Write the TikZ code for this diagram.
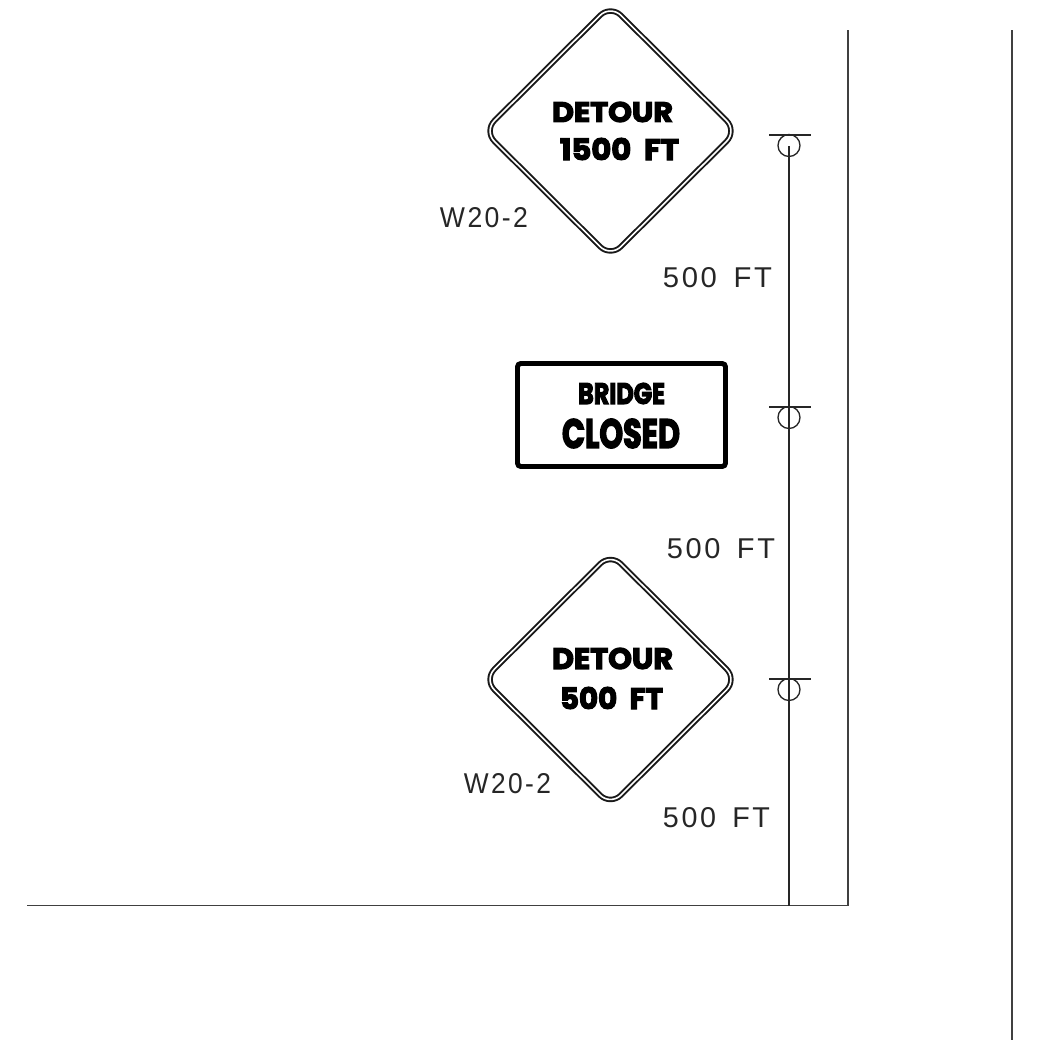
\documentclass[tikz,border=0pt]{standalone}
\usepackage{fontspec}
\usepackage{graphicx}
\setmainfont{Liberation Sans}[LetterSpace=9]
\newfontfamily\signfont[FakeBold=4]{Poppins Bold}
\newcommand{\fitbox}[3]{\resizebox{\dimexpr#1pt*3/4\relax}{\dimexpr#2pt*3/4\relax}{#3}}
\tikzset{
  x=0.75pt,y=-0.75pt,
  thin line/.style={line width=1.1pt,black!85},
  road line/.style={line width=0.9pt,black!75},
  loc circle/.style={line width=1pt,black!85},
  sign diamond/.style={line width=1.45pt,double=white,double distance=1.2pt,rounded corners=11pt,black!90,line join=round},
  sign rect/.style={line width=3.7pt,rounded corners=2.5pt,black},
  label text/.style={inner sep=0pt,black!85},
  sign text/.style={inner sep=0pt,black}
}
\begin{document}
\begin{tikzpicture}
\useasboundingbox[fill=white] (0,0) rectangle (1039,1061);
% road edges
\coordinate (cornerA) at (27,905.5);
\coordinate (cornerB) at (848,905.5);
\coordinate (cornerC) at (848,30);
\coordinate (farT) at (1012,30);
\coordinate (farB) at (1012,1040);
\draw[road line] (cornerA) -- (cornerB) -- (cornerC);
\draw[road line] (farT) -- (farB);
% upper diamond
\draw[sign diamond] (610.5,5) -- (737,131) -- (610.5,257) -- (484,131) -- cycle;
\node[sign text] (d1a) at (612.5,112) {\fitbox{121}{20}{\signfont DETOUR}};
\node[sign text] (d1b) at (619.5,149) {\fitbox{119}{22}{\signfont 1500\ \ FT}};
\node[label text] (w1) at (484,218) {\fitbox{88}{20}{W20-2}};
% closed sign
\draw[sign rect] (517.5,363.5) rectangle (725.5,466.5);
\node[sign text] (b1) at (621.5,393.5) {\fitbox{87}{21}{\signfont BRIDGE}};
\node[sign text] (b2) at (621,433.5) {\fitbox{118}{29}{\signfont CLOSED}};
% lower diamond
\draw[sign diamond] (610.5,553.5) -- (737,679.5) -- (610.5,805.5) -- (484,679.5) -- cycle;
\node[sign text] (d2a) at (612.5,658.5) {\fitbox{121}{21}{\signfont DETOUR}};
\node[sign text] (d2b) at (611.5,698) {\fitbox{103}{22}{\signfont 500\ \ FT}};
\node[label text] (w2) at (507.5,783.5) {\fitbox{87}{20}{W20-2}};
% distance labels
\node[label text] (l1) at (717.5,278) {\fitbox{109}{20}{500 \hspace{0.2em}FT}};
\node[label text] (l2) at (721,548.5) {\fitbox{108}{20}{500 \hspace{0.2em}FT}};
\node[label text] (l3) at (716.5,817.5) {\fitbox{107}{20}{500 \hspace{0.2em}FT}};
% pole and sign locations
\coordinate (poleTop) at (789,146);
\coordinate (poleBot) at (789,905.5);
\draw[thin line] (poleTop) -- (poleBot);
\foreach \yy in {135,407,679}{
  \draw[thin line] (769,\yy) -- (811,\yy);
  \draw[loc circle] (789,\yy+10.5) circle[radius=11];
}
\end{tikzpicture}
\end{document}
